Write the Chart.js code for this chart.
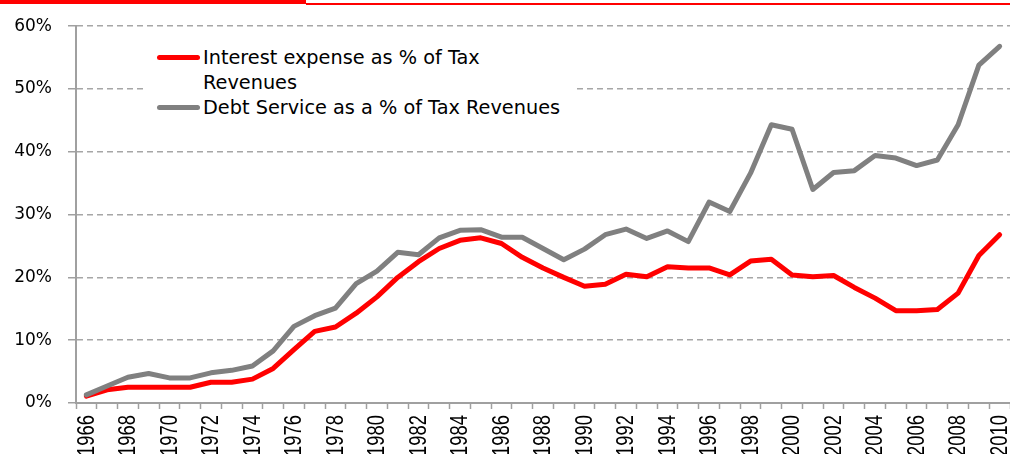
<!DOCTYPE html>
<html>
<head>
<meta charset="utf-8">
<script src="https://cdn.jsdelivr.net/npm/chart.js@4.4.0/dist/chart.umd.min.js"></script>
<style>
  body { margin: 0; background: #fff; }
  #wrap { position: relative; width: 1010px; height: 454px; overflow: hidden; }
  #topBar { position: absolute; left: 0; top: 0; width: 306px; height: 4px; background: #ff0000; }
  #topLine { position: absolute; left: 306px; top: 3px; width: 704px; height: 1.5px; background: #ff0000; }
  #legend {
    position: absolute; left: 146px; top: 45px; width: 428px; height: 76px;
    background: #fff; font-family: "DejaVu Sans", Verdana, sans-serif; font-size: 19.3px; color: #000;
  }
  .item { display: flex; align-items: flex-start; line-height: 25px; }
  .swatch { width: 43px; height: 5px; border-radius: 3px; margin: 10px 3px 0 11px; flex: none; }
  .txt { width: 368px; }
</style>
</head>
<body>
<div id="wrap">
  <canvas id="chart" width="1010" height="454"></canvas>
  <div id="topBar"></div>
  <div id="topLine"></div>
  <div id="legend"></div>
</div>
<script>
const years = ['1966','1967','1968','1969','1970','1971','1972','1973','1974','1975',
  '1976','1977','1978','1979','1980','1981','1982','1983','1984','1985',
  '1986','1987','1988','1989','1990','1991','1992','1993','1994','1995',
  '1996','1997','1998','1999','2000','2001','2002','2003','2004','2005',
  '2006','2007','2008','2009','2010'];

// % of tax revenues
const interestPct = [1.1,2.1,2.5,2.5,2.5,2.5,3.3,3.3,3.8,5.5,
  8.5,11.4,12.1,14.3,16.9,20.0,22.5,24.6,25.9,26.3,
  25.4,23.2,21.5,20.0,18.6,18.9,20.5,20.1,21.7,21.5,
  21.5,20.4,22.6,22.9,20.4,20.1,20.3,18.4,16.7,14.7,
  14.7,14.9,17.5,23.5,26.8];

const debtServicePct = [1.3,2.7,4.1,4.7,4.0,4.0,4.8,5.2,5.9,8.3,
  12.2,13.9,15.1,19.0,21.0,24.0,23.6,26.3,27.5,27.6,
  26.4,26.4,24.6,22.8,24.5,26.8,27.7,26.2,27.4,25.7,
  32.0,30.5,36.6,44.3,43.6,34.0,36.7,37.0,39.4,39.0,
  37.8,38.7,44.3,53.8,56.8];

const yTicks = [0,10,20,30,40,50,60];

const seriesNames = ['Interest expense as % of Tax Revenues','Debt Service as a % of Tax Revenues'];
const seriesColors = ['#ff0000','#808080'];

// x labels drawn narrow (no Arial Narrow here), every other year
const narrowYearLabels = {
  id: 'narrowYearLabels',
  afterDraw: (c) => {
    const xs = c.scales.x;
    const g = c.ctx;
    g.save();
    g.fillStyle = '#000';
    g.font = '23px "Liberation Sans", Arial, sans-serif';
    g.textAlign = 'right';
    g.textBaseline = 'middle';
    years.forEach((y, i) => {
      if (i % 2 !== 0) return;
      g.save();
      g.translate(xs.getPixelForValue(i) + 1, xs.top + 12);
      g.rotate(-Math.PI / 2);
      g.scale(0.8, 1);
      g.fillText(y, 0, 0);
      g.restore();
    });
    g.restore();
  }
};

const ctx = document.getElementById('chart').getContext('2d');
const chart = new Chart(ctx, {
  type: 'line',
  data: {
    labels: years,
    datasets: [
      {
        label: seriesNames[0],
        data: interestPct,
        borderColor: seriesColors[0],
        borderWidth: 5,
        order: 1
      },
      {
        label: seriesNames[1],
        data: debtServicePct,
        borderColor: seriesColors[1],
        borderWidth: 5,
        order: 0
      }
    ]
  },
  options: {
    responsive: false,
    animation: false,
    layout: { padding: { top: 24, right: 0, left: 0, bottom: 0 } },
    elements: {
      point: { radius: 0 },
      line: { tension: 0, borderJoinStyle: 'round', borderCapStyle: 'round', fill: false }
    },
    plugins: { legend: { display: false }, tooltip: { enabled: false } },
    scales: {
      x: {
        offset: true,
        grid: { offset: true, drawOnChartArea: false, drawTicks: true, tickLength: 6, color: '#a0a0a0', tickWidth: 1.5 },
        border: { color: '#a0a0a0', width: 2 },
        ticks: { display: false, autoSkip: false },
        afterFit: (scale) => { scale.height = 51; }
      },
      y: {
        min: 0,
        max: 60,
        afterBuildTicks: (scale) => { scale.ticks = yTicks.map(v => ({ value: v })); },
        grid: {
          color: '#a6a6a6',
          lineWidth: 1.5,
          tickLength: 8,
          tickBorderDash: [],
          tickColor: '#a0a0a0'
        },
        // in v4 border.dash is the dash of the grid lines
        border: { color: '#a0a0a0', width: 2, dash: [6, 4] },
        ticks: {
          padding: 16,
          color: '#000',
          font: { family: '"DejaVu Sans", Verdana, sans-serif', size: 17 },
          callback: (v) => v + '%'
        },
        afterFit: (scale) => { scale.width = 76; }
      }
    }
  },
  plugins: [narrowYearLabels]
});

// legend built from the datasets
const legendDiv = document.getElementById('legend');
chart.data.datasets.forEach((ds) => {
  const item = document.createElement('div');
  item.className = 'item';
  item.innerHTML = `<div class="swatch" style="background:${ds.borderColor}"></div><div class="txt">${ds.label}</div>`;
  legendDiv.appendChild(item);
});
</script>
</body>
</html>
